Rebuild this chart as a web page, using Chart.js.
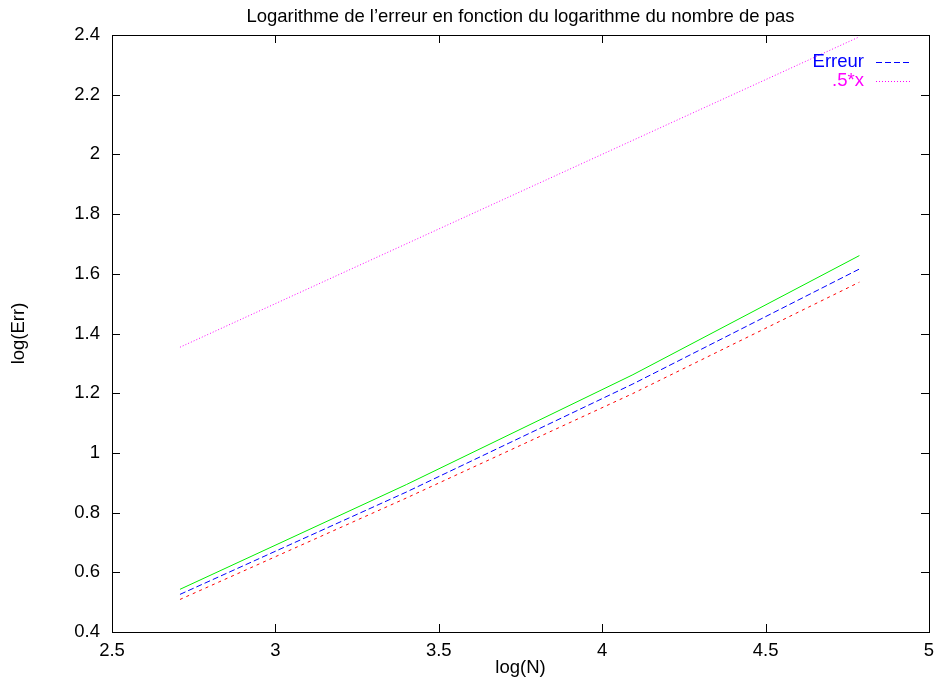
<!DOCTYPE html>
<html>
<head>
<meta charset="utf-8">
<script src="https://cdn.jsdelivr.net/npm/chart.js@4"></script>
<style>
html,body{margin:0;padding:0;background:#fff}
#wrap{width:935px;height:682px}
</style>
</head>
<body>
<div id="wrap"><canvas id="errChart" width="935" height="682"></canvas></div>
<script>
// log(N) for N = 15, 30, 60, 120
const logN = [2.708, 3.401, 4.094, 4.787]
const errGreen = [0.543, 0.894, 1.262, 1.661]
const errBlue = [0.526, 0.869, 1.231, 1.616]
const errRed = [0.509, 0.849, 1.199, 1.572]
// reference line .5*x, ends only
const refX = [2.708, 4.787]
const refY = [1.354, 2.394]

const xTicks = [2.5, 3, 3.5, 4, 4.5, 5]
const yTicks = [0.4, 0.6, 0.8, 1, 1.2, 1.4, 1.6, 1.8, 2, 2.2, 2.4]

const titleText = "Logarithme de l\u2019erreur en fonction du logarithme du nombre de pas"
const FONT = "'Liberation Sans', Arial, sans-serif"
const FSIZE = 18.5

function pts(xs, ys){
  return xs.map((x,i) => ({x:x, y:ys[i]}))
}

const gnuplotBits = {
  id:'gnuplotBits',
  afterDraw(chart){
    const c = chart.ctx
    const a = chart.chartArea
    const xs = chart.scales.x
    const ys = chart.scales.y
    c.save()
    c.strokeStyle = '#000'
    c.lineWidth = 1
    c.setLineDash([])
    // inward ticks, mirrored
    const tl = 8
    c.beginPath()
    xTicks.forEach(v => {
      const px = Math.round(xs.getPixelForValue(v)) + 0.5
      c.moveTo(px, a.bottom); c.lineTo(px, a.bottom - tl)
      c.moveTo(px, a.top); c.lineTo(px, a.top + tl)
    })
    yTicks.forEach(v => {
      const py = Math.round(ys.getPixelForValue(v)) + 0.5
      c.moveTo(a.left, py); c.lineTo(a.left + tl, py)
      c.moveTo(a.right, py); c.lineTo(a.right - tl, py)
    })
    c.stroke()
    c.strokeRect(Math.round(a.left)+0.5, Math.round(a.top)+0.5, Math.round(a.right - a.left), Math.round(a.bottom - a.top))

    // title and axis labels
    c.fillStyle = '#000'
    c.font = FSIZE + 'px ' + FONT
    c.textAlign = 'center'
    c.textBaseline = 'middle'
    c.fillText(titleText, (a.left + a.right)/2, 17)
    c.fillText('log(N)', (a.left + a.right)/2, 668)
    c.save()
    c.translate(19, (a.top + a.bottom)/2)
    c.rotate(-Math.PI/2)
    c.fillText('log(Err)', 0, 0)
    c.restore()

    // key (only titled series)
    let row = 0
    chart.data.datasets.forEach(ds => {
      if(!ds.keyTitle) return
      const y = 62 + row*19
      c.fillStyle = ds.borderColor
      c.textAlign = 'right'
      c.fillText(ds.keyTitle, 864, y)
      c.strokeStyle = ds.borderColor
      c.lineWidth = 1
      c.setLineDash(ds.borderDash || [])
      c.beginPath()
      c.moveTo(876, Math.round(y)+0.5); c.lineTo(910, Math.round(y)+0.5)
      c.stroke()
      row++
    })
    c.restore()
  }
}

new Chart(document.getElementById('errChart'), {
  type:'scatter',
  data:{
    datasets:[
      {data:pts(logN, errRed), borderColor:'#ff0000', borderDash:[3,4]},
      {data:pts(logN, errGreen), borderColor:'#00ee00'},
      {data:pts(logN, errBlue), borderColor:'#0000ff', borderDash:[6,3], keyTitle:'Erreur'},
      {data:pts(refX, refY), borderColor:'#ff00ff', borderDash:[1,2], keyTitle:'.5*x'}
    ].map(d => Object.assign({showLine:true, borderWidth:1, pointRadius:0, tension:0, fill:false}, d))
  },
  options:{
    responsive:false,
    animation:false,
    layout:{padding:{left:0, right:6, top:35, bottom:0}},
    plugins:{legend:{display:false}, tooltip:{enabled:false}},
    scales:{
      x:{
        type:'linear', min:2.5, max:5,
        afterFit(s){ s.height = 50; s.paddingLeft = 0; s.paddingRight = 0 },
        afterBuildTicks(s){ s.ticks = xTicks.map(v => ({value:v})) },
        grid:{display:false, drawTicks:false},
        border:{display:false},
        ticks:{padding:8, color:'#000', font:{family:FONT, size:FSIZE}, maxRotation:0,
          callback:v => String(Number(v.toFixed(1)))}
      },
      y:{
        type:'linear', min:0.4, max:2.4,
        afterFit(s){ s.width = 112; s.paddingTop = 0; s.paddingBottom = 0 },
        afterBuildTicks(s){ s.ticks = yTicks.map(v => ({value:v})) },
        grid:{display:false, drawTicks:false},
        border:{display:false},
        ticks:{padding:12, color:'#000', font:{family:FONT, size:FSIZE},
          callback:v => String(Number(v.toFixed(1)))}
      }
    }
  },
  plugins:[gnuplotBits]
})
</script>
</body>
</html>
